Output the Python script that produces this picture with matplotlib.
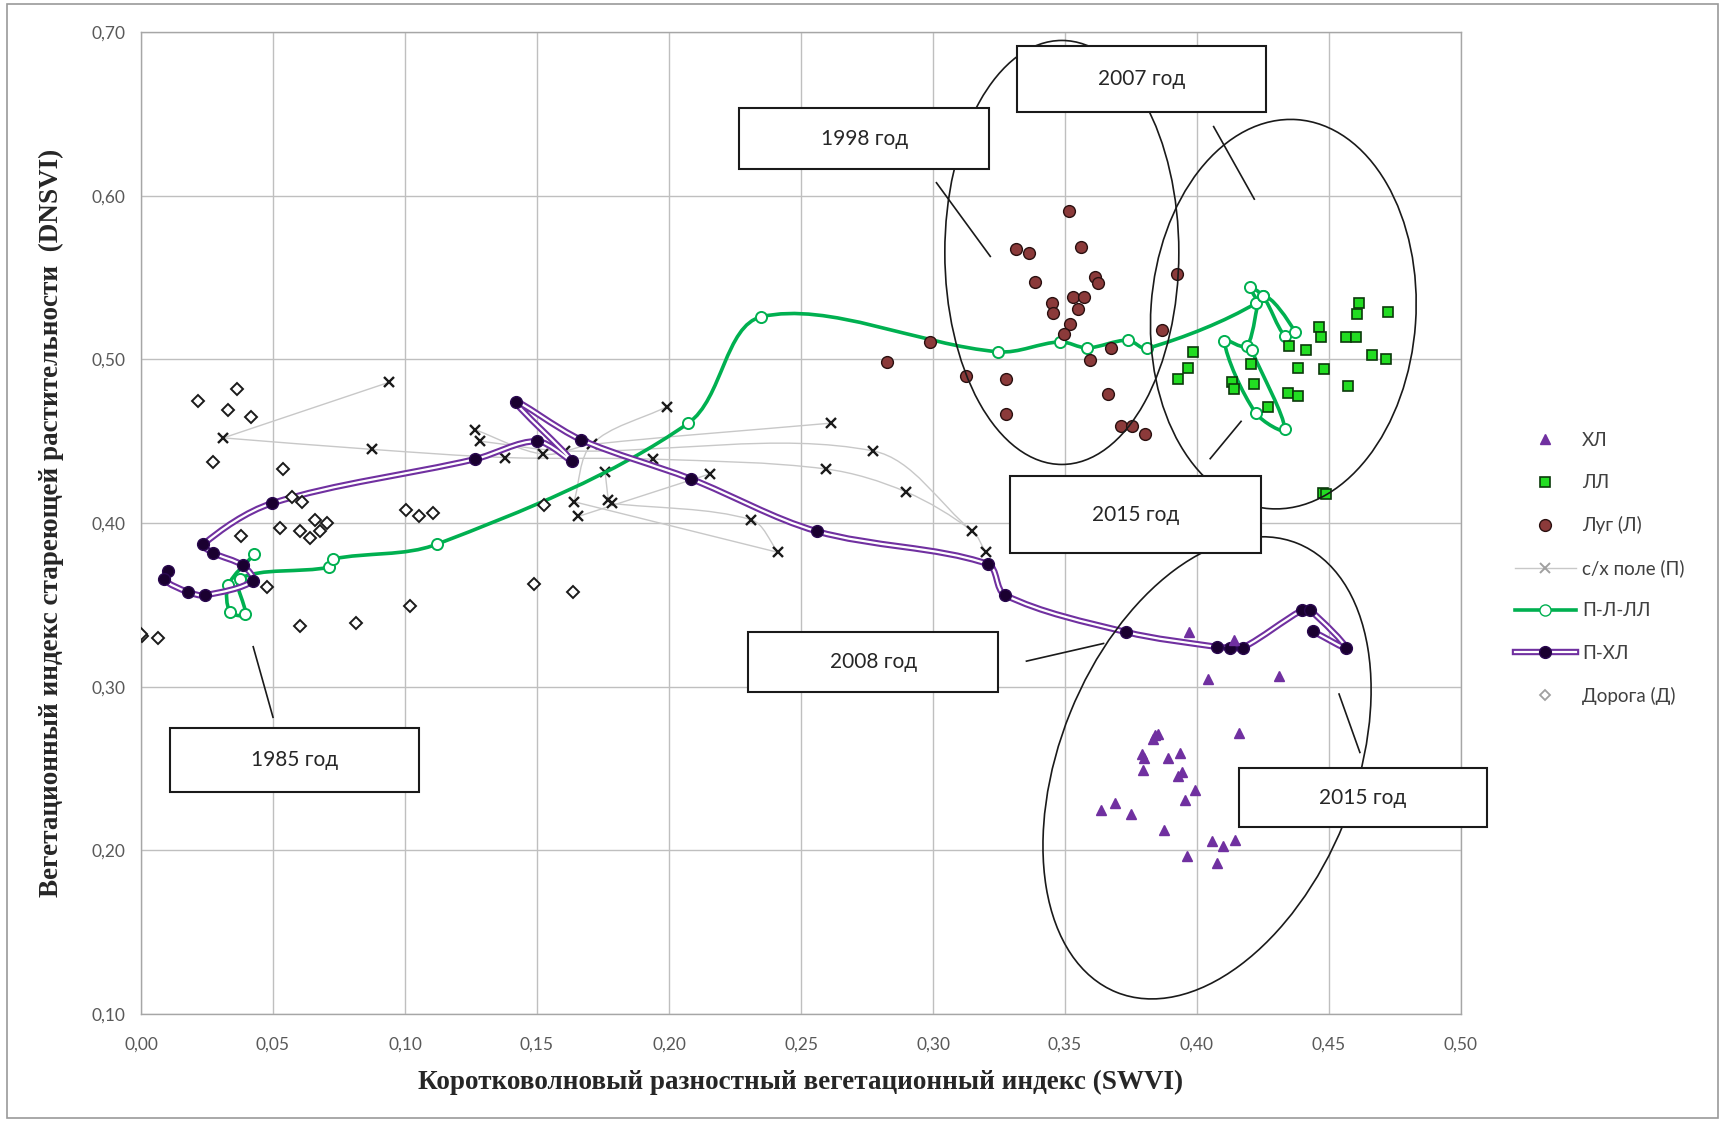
import numpy as np
import matplotlib
matplotlib.use("Agg")
import matplotlib.pyplot as plt
from matplotlib.path import Path
from matplotlib.patches import PathPatch, Ellipse, Rectangle
from matplotlib.lines import Line2D
from matplotlib.legend_handler import HandlerTuple
from matplotlib.ticker import FuncFormatter, MultipleLocator
import matplotlib.transforms as mtransforms

# ---- data ----
# ХЛ (triangles)
hl_x = [0.3971, 0.4141, 0.4043, 0.4312, 0.4159, 0.3841, 0.3853, 0.3832, 0.3790, 0.3799,
        0.3891, 0.3936, 0.3797, 0.3942, 0.3929, 0.3992, 0.3955, 0.3635, 0.3689, 0.3750,
        0.3876, 0.4058, 0.4100, 0.4144, 0.3963, 0.4077]
hl_y = [0.3334, 0.3284, 0.3044, 0.3064, 0.2717, 0.2703, 0.2709, 0.2683, 0.2591, 0.2567,
        0.2567, 0.2595, 0.2493, 0.2479, 0.2452, 0.2371, 0.2310, 0.2249, 0.2292, 0.2220,
        0.2127, 0.2055, 0.2025, 0.2065, 0.1963, 0.1922]

# ЛЛ (squares)
ll_x = [0.4615, 0.4605, 0.4725, 0.4463, 0.4468, 0.4564, 0.4602, 0.4350, 0.4413, 0.3986,
        0.3967, 0.3927, 0.4203, 0.4384, 0.4481, 0.4662, 0.4716, 0.4131, 0.4140, 0.4216,
        0.4573, 0.4346, 0.4384, 0.4270, 0.4476, 0.4490]
ll_y = [0.5342, 0.5276, 0.5290, 0.5195, 0.5138, 0.5138, 0.5138, 0.5081, 0.5056, 0.5046,
        0.4950, 0.4877, 0.4971, 0.4950, 0.4938, 0.5026, 0.5000, 0.4863, 0.4816, 0.4849,
        0.4836, 0.4792, 0.4775, 0.4706, 0.4184, 0.4180]

# Луг (Л) (circles)
lug_x = [0.3516, 0.3314, 0.3365, 0.3561, 0.3386, 0.3614, 0.3626, 0.3923, 0.3450, 0.3456,
         0.3532, 0.3573, 0.3551, 0.3519, 0.3496, 0.2989, 0.3868, 0.3673, 0.3595, 0.3124,
         0.3277, 0.3664, 0.3277, 0.3711, 0.3755, 0.3803, 0.2825]
lug_y = [0.5906, 0.5672, 0.5651, 0.5688, 0.5474, 0.5504, 0.5464, 0.5521, 0.5342, 0.5284,
         0.5382, 0.5382, 0.5307, 0.5213, 0.5152, 0.5107, 0.5179, 0.5067, 0.4995, 0.4897,
         0.4877, 0.4787, 0.4663, 0.4594, 0.4594, 0.4543, 0.4984]

# с/х поле (П) (crosses) and the tracks joining them
field_x = [0.0312, 0.0940, 0.0874, 0.1265, 0.1284, 0.1379, 0.1524, 0.1606, 0.1707, 0.1991,
           0.1941, 0.1758, 0.2155, 0.1640, 0.1770, 0.1783, 0.1656, 0.2311, 0.2414, 0.2612,
           0.2774, 0.2595, 0.2898, 0.3149, 0.3200]
field_y = [0.452, 0.486, 0.445, 0.457, 0.450, 0.440, 0.442, 0.444, 0.448, 0.471,
           0.439, 0.431, 0.430, 0.413, 0.414, 0.412, 0.404, 0.402, 0.382, 0.461,
           0.444, 0.433, 0.419, 0.395, 0.382]
field_tracks = [[0, 1], [0, 2, 5, 10, 21, 22, 23, 24], [3, 6, 8, 19], [4, 7, 20, 23],
                [13, 8, 9], [16, 12], [15, 17, 18], [14, 11], [13, 18]]

# П-Л-ЛЛ trajectory
pll_x = [0.0429, 0.0331, 0.0337, 0.0394, 0.0375, 0.0713, 0.0728, 0.1120, 0.2073, 0.2350,
         0.3248, 0.3481, 0.3584, 0.3737, 0.3812, 0.4222, 0.4200, 0.4250, 0.4333, 0.4371,
         0.4250, 0.4188, 0.4103, 0.4222, 0.4333, 0.4207]
pll_y = [0.381, 0.362, 0.3457, 0.3443, 0.366, 0.373, 0.378, 0.387, 0.461, 0.526,
         0.5046, 0.5107, 0.507, 0.5117, 0.5067, 0.5342, 0.544, 0.5386, 0.5142, 0.5168,
         0.5386, 0.5081, 0.5113, 0.4673, 0.4572, 0.5056]

# П-ХЛ trajectory
phl_x = [0.0103, 0.0087, 0.0177, 0.0242, 0.0423, 0.0385, 0.0274, 0.0236, 0.0495, 0.1265,
         0.1501, 0.1631, 0.1420, 0.1665, 0.2082, 0.2559, 0.3207, 0.3273, 0.3731, 0.4075,
         0.4125, 0.4175, 0.4397, 0.4428, 0.4564, 0.4438]
phl_y = [0.3707, 0.3655, 0.3579, 0.3559, 0.3646, 0.3741, 0.3817, 0.3869, 0.412, 0.439,
         0.450, 0.438, 0.474, 0.451, 0.427, 0.395, 0.375, 0.356, 0.3334, 0.3243,
         0.3239, 0.3239, 0.3467, 0.3467, 0.3239, 0.3339]

# Дорога (Д) (diamonds)
road_x = [0.0003, 0.0063, 0.0215, 0.0365, 0.0328, 0.0415, 0.0271, 0.0539, 0.0573, 0.0609,
          0.0527, 0.0378, 0.0602, 0.0659, 0.0706, 0.0678, 0.0640, 0.0476, 0.0602, 0.0814,
          0.1019, 0.1004, 0.1054, 0.1107, 0.1527, 0.1489, 0.1635, 0.0000]
road_y = [0.331, 0.330, 0.4745, 0.482, 0.469, 0.465, 0.437, 0.433, 0.416, 0.413,
          0.397, 0.392, 0.395, 0.402, 0.400, 0.395, 0.391, 0.361, 0.337, 0.339,
          0.349, 0.408, 0.404, 0.406, 0.411, 0.363, 0.358, 0.332]

legend_labels = ["ХЛ", "ЛЛ", "Луг (Л)", "с/х поле (П)", "П-Л-ЛЛ", "П-ХЛ", "Дорога (Д)"]

# year call-outs: text, box (x0, y0, x1, y1), leader line
year_labels = ["1998 год", "2007 год", "2015 год", "2008 год", "1985 год", "2015 год"]
year_boxes = [(0.2267, 0.616, 0.3213, 0.6536), (0.3317, 0.6509, 0.4263, 0.6913),
              (0.3292, 0.3815, 0.4242, 0.4285), (0.2300, 0.2968, 0.3246, 0.3332),
              (0.0108, 0.2357, 0.1054, 0.2746), (0.4158, 0.2141, 0.5100, 0.2504)]
year_leaders = [((0.3013, 0.3217), (0.6079, 0.5629)), ((0.4063, 0.4217), (0.6422, 0.5979)),
                ((0.4050, 0.4167), (0.4393, 0.4621)), ((0.3354, 0.3646), (0.3156, 0.3264)),
                ((0.0425, 0.0500), (0.3244, 0.2813)), ((0.4538, 0.4617), (0.2955, 0.2598))]

# group ellipses: centre (data), width/height in pixels, angle
groups = [((0.3488, 0.5653), 234, 424, 0), ((0.4327, 0.5276), 265, 390, -4),
          ((0.4038, 0.2504), 295, 484, -22)]

PX_X = 1320 / 0.5
PX_Y = 982 / 0.6


def smooth_path(xs, ys):
    # Excel-like smoothed line built from cubic bezier pieces
    p = np.column_stack([np.asarray(xs) * PX_X, np.asarray(ys) * PX_Y])
    n = len(p)
    seg = np.hypot(*np.diff(p, axis=0).T)
    prev_len = np.concatenate([[0.0], seg])
    next_len = np.concatenate([seg, [0.0]])
    d = np.zeros_like(p)
    d[1:-1] = p[2:] - p[:-2]
    d[0] = p[1] - p[0]
    d[-1] = p[-1] - p[-2]
    verts = [p[0]]
    codes = [Path.MOVETO]
    for i in range(n - 1):
        L = seg[i]
        c1 = p[i] + d[i] * L / (3 * max(prev_len[i] + next_len[i], 1e-9))
        c2 = p[i + 1] - d[i + 1] * L / (3 * max(prev_len[i + 1] + next_len[i + 1], 1e-9))
        verts += [c1, c2, p[i + 1]]
        codes += [Path.CURVE4] * 3
    verts = np.array(verts) / [PX_X, PX_Y]
    return Path(verts, codes)


fig = plt.figure(figsize=(17.25, 11.22), dpi=100)
ax = fig.add_axes([141 / 1725, 1 - 1014 / 1122, 1320 / 1725, 982 / 1122])
ax.set_xlim(0, 0.5)
ax.set_ylim(0.1, 0.7)

ax.xaxis.set_major_locator(MultipleLocator(0.05))
ax.yaxis.set_major_locator(MultipleLocator(0.10))
fmt = FuncFormatter(lambda v, pos: f"{v:.2f}".replace(".", ","))
ax.xaxis.set_major_formatter(fmt)
ax.yaxis.set_major_formatter(fmt)
ax.grid(True, color="#bfbfbf", lw=1.0, zorder=0)
ax.set_axisbelow(True)
for s in ax.spines.values():
    s.set_color("#a6a6a6")
    s.set_linewidth(1.0)
ax.tick_params(length=0, labelsize=12.5, labelcolor="#595959")
ax.tick_params(axis="x", pad=16)
ax.tick_params(axis="y", pad=11)
for lab in ax.get_xticklabels() + ax.get_yticklabels():
    lab.set_family("Lato")

ax.set_xlabel("Коротковолновый разностный вегетационный индекс (SWVI)",
              family="Liberation Serif", fontweight="bold", fontsize=19.5, color="#262626")
ax.set_ylabel("Вегетационный индекс стареющей растительности  (DNSVI)",
              family="Liberation Serif", fontweight="bold", fontsize=19.5, color="#262626")
ax.xaxis.set_label_coords(0.5, -0.07)
ax.xaxis.label.set_va("center")
ax.yaxis.set_label_coords(-0.068, 0.5)
ax.yaxis.label.set_va("center")

# field tracks
for tr in field_tracks:
    path = smooth_path([field_x[i] for i in tr], [field_y[i] for i in tr])
    ax.add_patch(PathPatch(path, fc="none", ec="#c8c8c8", lw=1.0, zorder=2))

# trajectories
ax.add_patch(PathPatch(smooth_path(pll_x, pll_y), fc="none", ec="#00B050", lw=2.6,
                       zorder=4, capstyle="round", joinstyle="round"))
ax.plot(pll_x, pll_y, ls="none", marker="o", ms=8, mfc="white", mec="#00B050", mew=1.4,
        zorder=4.1)

phl_path = smooth_path(phl_x, phl_y)
ax.add_patch(PathPatch(phl_path, fc="none", ec="#7030A0", lw=4.6, zorder=5,
                       capstyle="round", joinstyle="round"))
ax.add_patch(PathPatch(phl_path, fc="none", ec="white", lw=1.6, zorder=5.1,
                       capstyle="round", joinstyle="round"))
ax.plot(phl_x, phl_y, ls="none", marker="o", ms=8.5, mfc="#1a0030", mec="#2a0850", mew=1,
        zorder=5.2)

# point groups
ax.plot(field_x, field_y, ls="none", marker="x", ms=7.5, mec="#1a1a1a", mew=1.7, zorder=3)
ax.plot(lug_x, lug_y, ls="none", marker="o", ms=8.5, mfc="#8B3A3A", mec="#2a1010", mew=1,
        zorder=6)
ax.plot(ll_x, ll_y, ls="none", marker="s", ms=7.5, mfc="#22DD22", mec="#0a3a0a", mew=1.2,
        zorder=6)
ax.plot(hl_x, hl_y, ls="none", marker="^", ms=7, mfc="#7030A0", mec="#7030A0", zorder=6)
ax.plot(road_x, road_y, ls="none", marker="D", ms=6, mfc="white", mec="#1a1a1a", mew=1.4,
        zorder=6)

# group ellipses
scale = mtransforms.Affine2D().scale(1 / PX_X, 1 / PX_Y)
for (cx, cy), w, h, ang in groups:
    e = Ellipse((0, 0), w, h, angle=ang, fc="none", ec="#1a1a1a", lw=1.2,
                transform=scale + mtransforms.Affine2D().translate(cx, cy) + ax.transData,
                zorder=7)
    ax.add_patch(e)

# call-outs
for text, (x0, y0, x1, y1), (lx, ly) in zip(year_labels, year_boxes, year_leaders):
    ax.plot(lx, ly, color="#1a1a1a", lw=1.2, zorder=8, clip_on=False)
    ax.add_patch(Rectangle((x0, y0), x1 - x0, y1 - y0, fc="white", ec="#1a1a1a", lw=1.5,
                           zorder=9, clip_on=False))
    ax.text((x0 + x1) / 2, (y0 + y1) / 2, text, ha="center", va="center", fontsize=15,
            family="Lato", color="#262626", zorder=10, clip_on=False)

# legend
h_hl = Line2D([], [], ls="none", marker="^", ms=7, mfc="#7030A0", mec="#7030A0")
h_ll = Line2D([], [], ls="none", marker="s", ms=7.5, mfc="#22DD22", mec="#0a3a0a", mew=1.2)
h_lug = Line2D([], [], ls="none", marker="o", ms=8.5, mfc="#8B3A3A", mec="#2a1010")
h_field = Line2D([], [], color="#c8c8c8", lw=1.0, marker="x", ms=7, mec="#a0a0a0", mew=1.4)
h_pll = Line2D([], [], color="#00B050", lw=2.6, marker="o", ms=8, mfc="white", mec="#00B050")
h_phl = (Line2D([], [], color="#7030A0", lw=4.6),
         Line2D([], [], color="white", lw=1.6, marker="o", ms=8.5, mfc="#1a0030", mec="#2a0850"))
h_road = Line2D([], [], ls="none", marker="D", ms=5, mfc="white", mec="#a0a0a0", mew=1.3)
leg = fig.legend([h_hl, h_ll, h_lug, h_field, h_pll, h_phl, h_road], legend_labels,
                 loc="upper left", bbox_to_anchor=(0.878, 0.615), frameon=False,
                 labelspacing=1.34, handlelength=3.3, handletextpad=0.3,
                 borderpad=0, borderaxespad=0,
                 handler_map={tuple: HandlerTuple(ndivide=1)},
                 prop={"family": "Lato", "size": 13.5})
for t in leg.get_texts():
    t.set_color("#404040")

# outer frame
fig.add_artist(Rectangle((0.004, 0.004), 0.992, 0.992, transform=fig.transFigure,
                         fc="none", ec="#9a9a9a", lw=1.2))

fig.savefig("out.png", dpi=100)
